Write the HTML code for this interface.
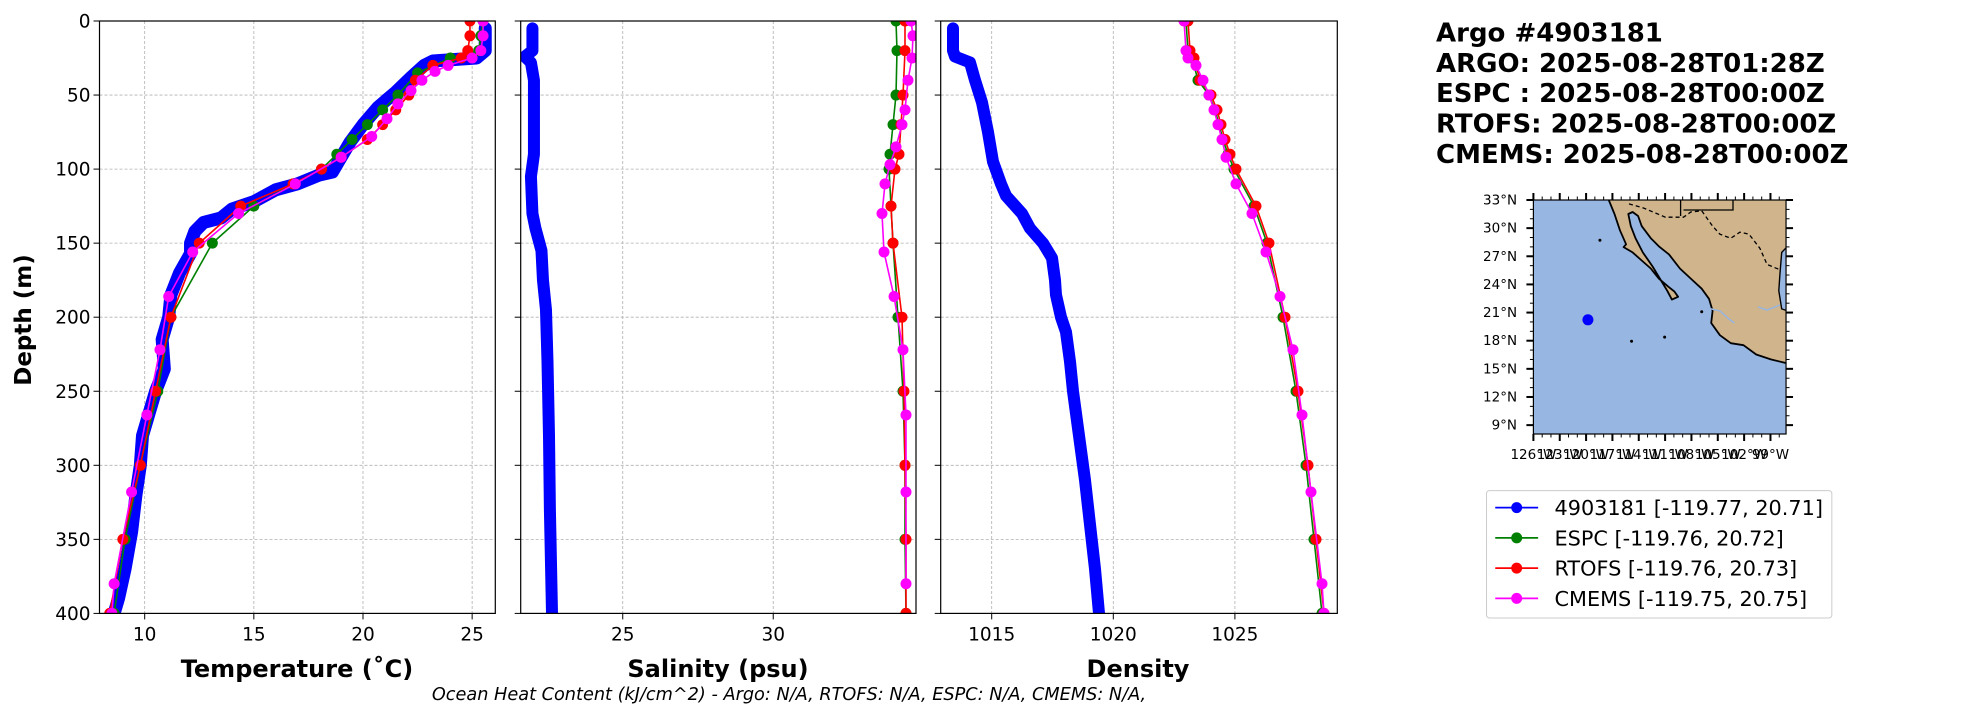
<!DOCTYPE html>
<html><head><meta charset="utf-8">
<style>
html,body{margin:0;padding:0;background:#fff;width:1967px;height:712px;overflow:hidden}
svg{display:block;font-family:"DejaVu Sans","Liberation Sans",sans-serif}
</style></head>
<body>
<svg id="s" width="1967" height="712" viewBox="0 0 1967 712" xmlns="http://www.w3.org/2000/svg"></svg>
<script>
const NS="http://www.w3.org/2000/svg";
const S=document.getElementById('s');
function el(t,a,txt,parent){const e=document.createElementNS(NS,t);for(const k in a)e.setAttribute(k,a[k]);if(txt!==undefined)e.textContent=txt;(parent||S).appendChild(e);return e;}
const TOP=21,BOT=613.4;
const Y=d=>TOP+d*(BOT-TOP)/400;
const panels=[{l:99.5,r:495.3},{l:520.7,r:916},{l:940.7,r:1337.3}];
const depths=[0,50,100,150,200,250,300,350,400];
const XT=T=>99.5+(T-7.93)*21.83;
const XS=s=>520.7+(s-21.61)*30.1;
const XD=v=>991.7+(v-1015)*24.32;
const xt=[[10,15,20,25].map(XT),[25,30].map(XS),[1015,1020,1025].map(XD)];
const xl=[["10","15","20","25"],["25","30"],["1015","1020","1025"]];
panels.forEach((p,i)=>{
  depths.forEach(d=>{ if(d>0&&d<400) el('line',{x1:p.l,x2:p.r,y1:Y(d),y2:Y(d),stroke:'#b0b0b0','stroke-width':0.8,'stroke-dasharray':'3,2'});
    el('line',{x1:p.l-6,x2:p.l,y1:Y(d),y2:Y(d),stroke:'#000','stroke-width':1});
    if(i==0) el('text',{x:p.l-9,y:Y(d)+6.5,'text-anchor':'end','font-size':18.5},String(d));
  });
  xt[i].forEach((x,j)=>{el('line',{x1:x,x2:x,y1:TOP,y2:BOT,stroke:'#b0b0b0','stroke-width':0.8,'stroke-dasharray':'3,2'});
    el('line',{x1:x,x2:x,y1:BOT,y2:BOT+6,stroke:'#000','stroke-width':1});
    el('text',{x:x,y:BOT+27,'text-anchor':'middle','font-size':18.5},xl[i][j]);});
});
function series(pts,color,lw,r,markers,clip){
  const g=el('g',{'clip-path':'url(#'+clip+')'});
  el('polyline',{points:pts.map(p=>p.join(',')).join(' '),fill:'none',stroke:color,'stroke-width':lw,'stroke-linejoin':'round','stroke-linecap':'round'},undefined,g);
  if(markers) pts.forEach(p=>el('circle',{cx:p[0],cy:p[1],r:r,fill:color},undefined,g));
}
const defs=el('defs',{});
panels.forEach((p,i)=>{const c=el('clipPath',{id:'c'+i},undefined,defs);el('rect',{x:p.l,y:TOP,width:p.r-p.l,height:BOT-TOP},undefined,c);});
const tA=[[25.6,5],[25.6,20],[25.2,25],[23.2,27],[22.8,30],[22.2,38],[21.5,48],[20.7,58],[20.0,70],[19.4,82],[19.0,92],[18.6,102],[18,104],[17,110],[16,114],[15,122],[14,127],[13.5,133],[12.7,136],[12.3,142],[12.1,150],[12.1,157],[11.6,170],[11.2,185],[11.1,200],[10.8,215],[10.9,235],[10.5,250],[10.2,265],[9.9,280],[9.8,300],[9.6,320],[9.4,345],[9.1,370],[8.8,390],[8.6,400]];
const tE=[[25.5,0],[25.4,10],[25.3,20],[24,25],[22.5,35],[21.6,50],[20.9,60],[20.2,70],[19.5,80],[18.8,90],[18.1,100],[16.8,110],[15,125],[13.1,150],[11.2,200],[10.6,250],[9.8,300],[9.1,350],[8.6,400]];
const tR=[[24.9,0],[24.9,10],[24.8,20],[24.5,25],[23.2,30],[22.4,40],[22.1,50],[21.5,60],[20.9,70],[20.2,80],[19.0,92],[18.1,100],[16.8,110],[14.4,125],[12.5,150],[11.2,200],[10.5,250],[9.8,300],[9.0,350],[8.4,400]];
const tC=[[25.5,0],[25.5,10],[25.4,20],[25.0,25],[23.9,30],[23.3,34],[22.7,40],[22.2,47],[21.6,56],[21.1,66],[20.4,78],[19.0,92],[16.9,110],[14.3,130],[12.2,156],[11.1,186],[10.7,222],[10.1,266],[9.4,318],[8.6,380],[8.5,400]];
const tm=a=>a.map(p=>[XT(p[0]),Y(p[1])]);
series(tm(tA),'#0000ff',13,0,false,'c0');
series(tm(tE),'#008000',1.6,5.5,true,'c0');
series(tm(tR),'#ff0000',1.6,5.5,true,'c0');
series(tm(tC),'#ff00ff',1.6,5.5,true,'c0');
const sA=[[22.0,5],[22.0,20],[21.75,24],[21.95,28],[22.05,40],[22.05,90],[21.95,105],[22.0,130],[22.1,140],[22.3,155],[22.35,175],[22.45,195],[22.5,230],[22.55,280],[22.58,330],[22.62,370],[22.65,400]];
series(sA.map(p=>[XS(p[0]),Y(p[1])]),'#0000ff',12,0,false,'c1');
const pm=a=>a.map(p=>[p[0],Y(p[1])]);
series(pm([[896,0],[897,20],[896,50],[893,70],[890,90],[889,100],[891,125],[893,150],[898,200],[903,250],[905,300],[905,350],[906,400]]),'#008000',1.6,5.5,true,'c1');
series(pm([[905,0],[905,20],[903,50],[901,70],[899,90],[895,100],[891,125],[893,150],[902,200],[904,250],[905,300],[906,350],[906,400]]),'#ff0000',1.6,5.5,true,'c1');
series(pm([[911,0],[913,10],[912,25],[908,40],[905,60],[902,70],[896,85],[890,97],[885,110],[882,130],[884,156],[894,186],[903,222],[906,266],[906,318],[906,380]]),'#ff00ff',1.6,5.5,true,'c1');
series(pm([[953,5],[953,20],[955,24],[970,28],[975,40],[982,55],[988,75],[993,95],[1001,110],[1006,118],[1022,130],[1030,140],[1043,150],[1052,160],[1055,175],[1056,185],[1061,200],[1066,210],[1070,230],[1073,250],[1079,280],[1085,310],[1090,340],[1095,370],[1099,400]]),'#0000ff',12,0,false,'c2');
const dR=[[1188,0],[1190,20],[1194,25],[1200,40],[1211,50],[1217,60],[1221,70],[1225,80],[1230,90],[1236,100],[1256,125],[1269,150],[1285,200],[1298,250],[1308,300],[1316,350],[1324,400]];
series(pm(dR.map(p=>[p[0]-2,p[1]])),'#008000',1.6,5.5,true,'c2');
series(pm(dR),'#ff0000',1.6,5.5,true,'c2');
series(pm([[1184,0],[1186,20],[1188,25],[1196,30],[1203,40],[1209,50],[1214,60],[1218,70],[1222,80],[1226,92],[1236,110],[1252,130],[1266,156],[1280,186],[1293,222],[1302,266],[1311,318],[1322,380],[1324,400]]),'#ff00ff',1.6,5.5,true,'c2');
panels.forEach(p=>el('rect',{x:p.l,y:TOP,width:p.r-p.l,height:BOT-TOP,fill:'none',stroke:'#000','stroke-width':1.2}));
el('text',{x:0,y:0,transform:'translate(31,320) rotate(-90)','text-anchor':'middle','font-size':23,'font-weight':'bold'},'Depth (m)');
el('text',{x:297,y:677,'text-anchor':'middle','font-size':24,'font-weight':'bold'},'Temperature (˚C)');
el('text',{x:718,y:677,'text-anchor':'middle','font-size':24,'font-weight':'bold'},'Salinity (psu)');
el('text',{x:1138,y:677,'text-anchor':'middle','font-size':24,'font-weight':'bold'},'Density');
el('text',{x:789,y:700,'text-anchor':'middle','font-size':17.7,'font-style':'italic'},'Ocean Heat Content (kJ/cm^2) - Argo: N/A,  RTOFS: N/A,  ESPC: N/A,  CMEMS: N/A,');
['Argo #4903181','ARGO: 2025-08-28T01:28Z','ESPC : 2025-08-28T00:00Z','RTOFS: 2025-08-28T00:00Z','CMEMS: 2025-08-28T00:00Z'].forEach((t,i)=>{
  el('text',{x:1436,y:41.6+30.3*i,'font-size':26,'font-weight':'bold'},t);
});
const KY=0.4038, KX=0.3635;
const ZX=zx=>1400+zx*KX;
const ML=ZX(367),MR=ZX(1062),MT=200,MB=434;
const mc=el('clipPath',{id:'mc'},undefined,defs);el('rect',{x:ML,y:MT,width:MR-ML,height:MB-MT},undefined,mc);
el('rect',{x:ML,y:MT,width:MR-ML,height:MB-MT,fill:'#97b6e1'});
const Z=a=>a.map(p=>ZX(p[0]).toFixed(1)+','+(p[1]*KY).toFixed(1)).join(' ');
const mg=el('g',{'clip-path':'url(#mc)'});
const land=[[572,490],[590,530],[605,570],[622,605],[615,612],[640,625],[665,645],[690,665],[712,690],[738,710],[755,722],[765,735],[748,742],[735,720],[715,690],[695,660],[668,625],[648,590],[635,560],[628,530],[640,525],[655,535],[665,560],[690,590],[712,610],[740,630],[770,665],[800,690],[830,715],[850,740],[860,770],[856,800],[880,830],[910,850],[945,855],[980,878],[1020,890],[1066,900],[1066,490]];
el('polygon',{points:Z(land),fill:'#cfb48c',stroke:'#000','stroke-width':1.8,'stroke-linejoin':'round'},undefined,mg);
el('polygon',{points:Z([[1066,610],[1050,625],[1045,680],[1042,720],[1050,765],[1066,770]]),fill:'#97b6e1',stroke:'#000','stroke-width':1.4},undefined,mg);
el('polyline',{points:Z([[630,505],[670,515],[730,538],[780,538],[800,525],[830,522],[860,560],[880,580],[910,590],[935,575],[960,580],[990,615],[1010,655],[1045,668]]),fill:'none',stroke:'#000','stroke-width':1.3,'stroke-dasharray':'4,3'},undefined,mg);
el('polyline',{points:Z([[772,495],[772,535]]),fill:'none',stroke:'#000','stroke-width':1.3},undefined,mg);
el('polyline',{points:Z([[780,520],[916,520],[916,495]]),fill:'none',stroke:'#000','stroke-width':1.3},undefined,mg);
el('polyline',{points:Z([[855,765],[880,770],[905,790],[920,800]]),fill:'none',stroke:'#97b6e1','stroke-width':1.5},undefined,mg);
el('polyline',{points:Z([[985,760],[1010,768],[1045,755]]),fill:'none',stroke:'#97b6e1','stroke-width':1.5},undefined,mg);
[[550,595],[830,772],[728,835],[637,845]].forEach(p=>el('circle',{cx:ZX(p[0]),cy:p[1]*KY,r:1.5,fill:'#000'},undefined,mg));
el('circle',{cx:ZX(517),cy:319.8,r:5.5,fill:'#0000ff'});
el('rect',{x:ML,y:MT,width:MR-ML,height:MB-MT,fill:'none',stroke:'#000','stroke-width':1.2});
const latY=l=>200+(33-l)*9.38;
for(let l=9;l<=33;l+=3){const y=latY(l);
  el('line',{x1:ML-7,x2:ML,y1:y,y2:y,stroke:'#000','stroke-width':2});
  el('line',{x1:MR,x2:MR+7,y1:y,y2:y,stroke:'#000','stroke-width':2});
  el('text',{x:ZX(322),y:y+4.5,'text-anchor':'end','font-size':13.5},l+'°N');}
for(let l=8;l<=33;l+=1){if(l%3==0)continue;const y=latY(l);if(y>MB)continue;
  el('line',{x1:ML-3.5,x2:ML,y1:y,y2:y,stroke:'#000','stroke-width':1});
  el('line',{x1:MR,x2:MR+3.5,y1:y,y2:y,stroke:'#000','stroke-width':1});}
const lonX=l=>ZX(367)+(l+126)*8.78;
for(let l=-126;l<=-99;l+=3){const x=lonX(l);
  el('line',{x1:x,x2:x,y1:MB,y2:MB+7,stroke:'#000','stroke-width':2});
  el('line',{x1:x,x2:x,y1:MT-7,y2:MT,stroke:'#000','stroke-width':2});
  el('text',{x:x,y:MB+25,'text-anchor':'middle','font-size':13.5},(-l)+'°W');}
for(let l=-126;l<=-97;l+=1){if((l+126)%3==0)continue;const x=lonX(l);if(x>MR)continue;
  el('line',{x1:x,x2:x,y1:MB,y2:MB+3.5,stroke:'#000','stroke-width':1});
  el('line',{x1:x,x2:x,y1:MT-3.5,y2:MT,stroke:'#000','stroke-width':1});}
el('rect',{x:ZX(238),y:490.6,width:ZX(1188)-ZX(238),height:127.4,rx:3,fill:'#fff',stroke:'#cccccc','stroke-width':1});
[['#0000ff','4903181 [-119.77, 20.71]'],['#008000','ESPC [-119.76, 20.72]'],['#ff0000','RTOFS [-119.76, 20.73]'],['#ff00ff','CMEMS [-119.75, 20.75]']].forEach((e,i)=>{
  const y=507.6+30.27*i;
  el('line',{x1:ZX(262),x2:ZX(380),y1:y,y2:y,stroke:e[0],'stroke-width':1.8});
  el('circle',{cx:ZX(321),cy:y,r:5.5,fill:e[0]});
  el('text',{x:ZX(425),y:y+7.5,'font-size':20.8},e[1]);
});
</script>
</body></html>
